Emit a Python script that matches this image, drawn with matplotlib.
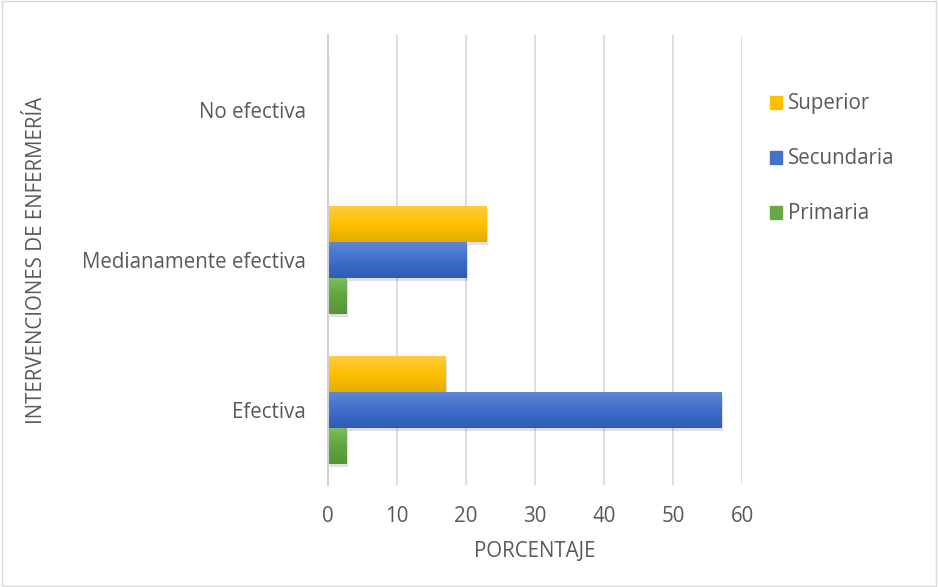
import matplotlib
matplotlib.use("Agg")
import matplotlib.pyplot as plt
import numpy as np
from matplotlib.patches import Rectangle

categories = ["Efectiva", "Medianamente efectiva", "No efectiva"]
series_names = ["Primaria", "Secundaria", "Superior"]
primaria = [2.7, 2.7, 0]
secundaria = [57, 20, 0]
superior = [17, 23, 0]
xticks = [0, 10, 20, 30, 40, 50, 60]

colors = {
    "Primaria": ("#7dbb5c", "#62a53f", "#55953a"),
    "Secundaria": ("#5f86d3", "#3f6ecb", "#2e5bb5"),
    "Superior": ("#ffcb3d", "#ffc000", "#e4ab00"),
}
legend_color = {"Primaria": "#66aa44", "Secundaria": "#4472c4", "Superior": "#ffc000"}

plt.rcParams['font.family'] = ['Open Sans', 'DejaVu Sans']
txt = "#595959"
fs = 14.8

fig = plt.figure(figsize=(9.38, 5.87), dpi=100)
ax = fig.add_axes([328/938, 1-485/587, (742-328)/938, (485-35)/587])

y = np.arange(len(categories))
h = 0.24
data = [primaria, secundaria, superior]
offsets = [-h, 0, h]

ax.set_xlim(0, 60)
ax.set_ylim(-0.5, len(categories) - 0.5)

for name, vals, off in zip(series_names, data, offsets):
    bars = ax.barh(y + off, vals, height=h, color="none", zorder=3)
    c_top, c_mid, c_bot = colors[name]
    cmap = matplotlib.colors.LinearSegmentedColormap.from_list(name, [c_bot, c_mid, c_top])
    grad = np.linspace(0, 1, 64).reshape(-1, 1)
    for b in bars:
        x0, y0 = b.get_x(), b.get_y()
        w, hh = b.get_width(), b.get_height()
        if w > 0:
            sh = Rectangle((x0 + 0.25, y0 - 0.02), w, hh, color="#000000", alpha=0.12,
                           zorder=2, linewidth=0)
            ax.add_patch(sh)
            ax.imshow(grad, extent=(x0, x0 + w, y0, y0 + hh), origin="lower",
                      cmap=cmap, aspect="auto", zorder=3)
        else:
            sh = Rectangle((x0, y0), 0.3, hh, color="#000000", alpha=0.04,
                           zorder=2, linewidth=0)
            ax.add_patch(sh)

ax.set_xlim(0, 60)
ax.set_ylim(-0.5, len(categories) - 0.5)
ax.set_xticks(xticks)
ax.set_xticklabels([str(t) for t in xticks])
ax.set_yticks(y)
ax.set_yticklabels(categories)
ax.grid(axis="x", color="#d9d9d9", linewidth=1.2, zorder=0)
ax.set_axisbelow(True)
for s in ["top", "right", "bottom"]:
    ax.spines[s].set_visible(False)
ax.spines["left"].set_color("#d0d0d0")
ax.spines["left"].set_linewidth(1.5)
ax.spines["left"].set_zorder(4)
ax.tick_params(axis="both", length=0, colors=txt, labelsize=fs)
ax.tick_params(axis="y", pad=16)
ax.tick_params(axis="x", pad=15)
ax.set_xlabel("PORCENTAJE", color=txt, fontsize=fs, labelpad=10)
ax.set_ylabel("INTERVENCIONES DE ENFERMERÍA", color=txt, fontsize=fs)
ax.yaxis.set_label_coords(-281/414, 0.5)

handles = [Rectangle((0, 0), 1, 1, color=legend_color[n]) for n in ["Superior", "Secundaria", "Primaria"]]
leg = fig.legend(handles, ["Superior", "Secundaria", "Primaria"], loc="upper left",
                 bbox_to_anchor=(751/938, 1-75/587), frameon=False, fontsize=fs,
                 handlelength=0.6, handleheight=0.6, handletextpad=0.3, labelspacing=1.65)
for t in leg.get_texts():
    t.set_color(txt)

border = Rectangle((0.002, 0.002), 0.996, 0.996, transform=fig.transFigure, fill=False,
                   edgecolor="#d9d9d9", linewidth=1)
fig.patches.append(border)

fig.savefig("out.png", dpi=100, facecolor="white")
